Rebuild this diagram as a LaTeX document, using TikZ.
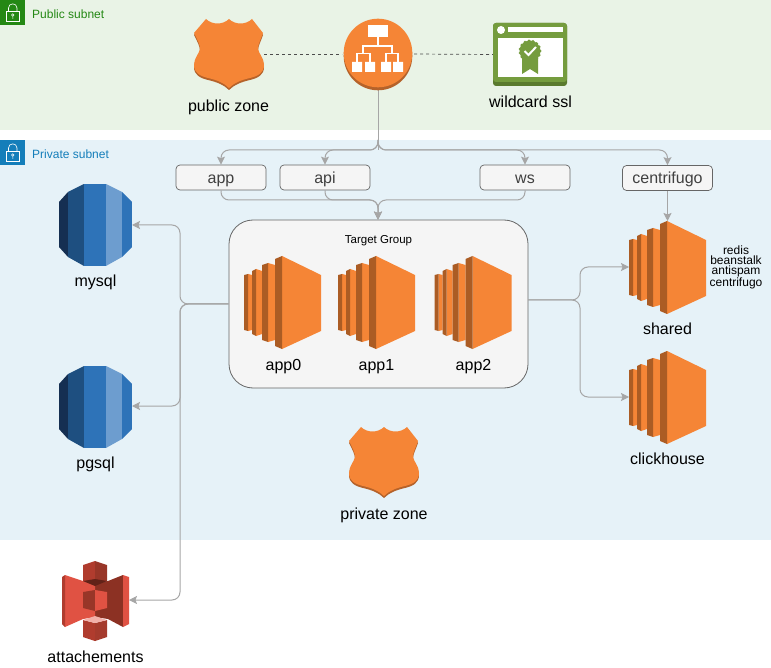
\documentclass[tikz,border=0pt]{standalone}
\usepackage{fontspec}
\setmainfont{Liberation Sans}
\usetikzlibrary{arrows.meta}
\definecolor{pubbg}{HTML}{E9F3E6}
\definecolor{privbg}{HTML}{E6F2F8}
\definecolor{pubgreen}{HTML}{248814}
\definecolor{privblue}{HTML}{147EBA}
\definecolor{orangeL}{HTML}{F58536}
\definecolor{orangeD}{HTML}{AB5C24}
\definecolor{shieldD}{HTML}{B5622A}
\definecolor{linegray}{HTML}{A6A6A6}
\definecolor{boxedge}{HTML}{666666}
\definecolor{boxfill}{HTML}{F5F5F5}
\definecolor{sslG}{HTML}{759C3E}
\definecolor{sslD}{HTML}{5A7A2E}
\definecolor{rdsA}{HTML}{152F52}
\definecolor{rdsB}{HTML}{1E4F80}
\definecolor{rdsC}{HTML}{2E73B8}
\definecolor{rdsD}{HTML}{6D9DCF}
\definecolor{sA}{HTML}{E05243}
\definecolor{sB}{HTML}{8C3123}
\definecolor{sM}{HTML}{B03C2E}
\definecolor{sC}{HTML}{F2B0A9}
\tikzset{
  x=1pt,y=-1pt,
  lbl/.style={font=\fontsize{16}{18}\selectfont,text=black,inner sep=0pt,text height=12pt,text depth=1.5pt},
  slot/.style={inner sep=0pt,outer sep=0pt,minimum width=#1,draw=none},
  domainbox/.style={draw=boxedge,fill=boxfill,rounded corners=4pt,line width=0.7pt,minimum width=90pt,minimum height=25pt,inner sep=0pt,font=\fontsize{16}{18}\selectfont,text=black!75,text height=13pt,text depth=1pt},
  conn/.style={draw=linegray,line width=1pt,rounded corners=8pt,-{Stealth[length=8pt,width=8pt,inset=1.5pt]}},
  plain/.style={draw=linegray,line width=1pt,rounded corners=8pt},
  dashline/.style={draw=black!70,line width=0.7pt,dash pattern=on 3pt off 3pt},
  ec2/.pic={
    \fill[orangeL] (4,18)--(8,19)--(8,74)--(4,75)--cycle;
    \fill[orangeD] (0,19)--(4,18)--(4,75)--(0,74)--cycle;
    \fill[orangeL] (12,13)--(18,15)--(18,78)--(12,80)--cycle;
    \fill[orangeD] (8,15)--(12,13)--(12,80)--(8,78)--cycle;
    \fill[orangeL] (24,7)--(31,9)--(31,84)--(24,86)--cycle;
    \fill[orangeD] (18,9)--(24,7)--(24,86)--(18,84)--cycle;
    \fill[orangeL] (38,0)--(77,19)--(77,75)--(38,93)--cycle;
    \fill[orangeD] (31,3)--(38,0)--(38,93)--(31,90)--cycle;
  },
  shieldshape/.pic={
    \path[fill=#1] (12,0) .. controls (18,6) and (29,6) .. (35,0) .. controls (41,6) and (52,6) .. (58,0) -- (69,14) .. controls (67,20) and (64,25) .. (64,30) .. controls (65,35) and (70,39) .. (70,46) .. controls (70,54) and (64,57) .. (56,59) .. controls (47,61) and (40,64) .. (35,69) .. controls (30,64) and (23,61) .. (14,59) .. controls (6,57) and (0,54) .. (0,46) .. controls (0,39) and (5,35) .. (6,30) .. controls (6,25) and (3,20) .. (0,14) -- cycle;
  },
  rds/.pic={
    \begin{scope}
      \clip (0,18) -- (9,8) -- (25,0) -- (47,0) -- (63,8) -- (73,18) -- (73,63) -- (63,73) -- (47,82) -- (25,82) -- (9,73) -- (0,63) -- cycle;
      \fill[rdsA] (0,0) rectangle (9,82);
      \fill[rdsB] (9,0) rectangle (25,82);
      \fill[rdsC] (25,0) rectangle (47,82);
      \fill[rdsD] (47,0) rectangle (63,82);
      \fill[rdsC] (63,0) rectangle (73,82);
    \end{scope}
  },
  sthree/.pic={
    % right wing, dark half behind the cubes
    \fill[sB] (33,22) -- (46,20) -- (61,14) -- (61,66) -- (46,58) -- (33,56) -- cycle;
    \fill[sA] (61,14) -- (67,16) -- (67,63) -- (61,66) -- cycle;
    % left wing, light half behind the cubes
    \fill[sA] (3,14) -- (21,20) -- (33,22) -- (33,56) -- (21,58) -- (3,66) -- cycle;
    \fill[sM] (0,16) -- (3,14) -- (3,66) -- (0,63) -- cycle;
    % top cube
    \fill[sM] (21,4) -- (33,0) -- (33,24) -- (21,20) -- cycle;
    \fill[sB!85!sA] (33,0) -- (45,4) -- (45,20) -- (33,24) -- cycle;
    \fill[sB!70!black] (21,20) -- (33,18) -- (45,20) -- (33,25) -- cycle;
    % middle cube
    \fill[sB!85!sA] (21,31) -- (33,29) -- (33,50) -- (21,47) -- cycle;
    \fill[sA] (33,29) -- (45,31) -- (45,47) -- (33,50) -- cycle;
    % bottom cube
    \fill[sM] (21,59) -- (33,62) -- (33,80) -- (21,76) -- cycle;
    \fill[sB!70!sA] (33,62) -- (45,59) -- (45,76) -- (33,80) -- cycle;
    \fill[sC] (21,59) -- (33,55) -- (45,59) -- (33,62) -- cycle;
  },
}
\begin{document}
\begin{tikzpicture}
\useasboundingbox (0,0) rectangle (771,668);
% bands
\fill[pubbg] (0,0) rectangle (771,130);
\fill[privbg] (0,140) rectangle (771,540);
% subnet badges
\fill[pubgreen] (0,0) rectangle (25,25);
\fill[privblue] (0,140) rectangle (25,165);
\foreach \yy in {0,140}{
  \draw[white,line width=0.6pt] (6,11.5+\yy) rectangle (19.5,21.5+\yy);
  \draw[white,line width=0.6pt] (8.5,11.5+\yy) -- (8.5,8+\yy) .. controls (8.5,2.5+\yy) and (17,2.5+\yy) .. (17,8+\yy) -- (17,11.5+\yy);
  \draw[white,line width=0.5pt] (12.75,15+\yy) circle (1.3pt) (12.75,16.3+\yy) -- (12.75,19+\yy);
}
\node[anchor=base west,inner sep=0pt,font=\fontsize{12}{14}\selectfont,text=pubgreen] (publabel) at (32,18.5) {Public subnet};
\node[anchor=base west,inner sep=0pt,font=\fontsize{12}{14}\selectfont,text=privblue] (privlabel) at (32,158.5) {Private subnet};
% anchor slots for icons
\node[slot=70pt,minimum height=70pt] (pubzone) at (229,54) {};
\node[slot=69pt,minimum height=72pt,shape=circle] (elb) at (378,54) {};
\node[slot=74pt,minimum height=63pt] (ssl) at (530,54.5) {};
\node[slot=73pt,minimum height=82pt] (mysql) at (95.5,225) {};
\node[slot=73pt,minimum height=82pt] (pgsql) at (95.5,407) {};
\node[slot=67pt,minimum height=80pt] (sthreeb) at (95.5,601) {};
\node[slot=77pt,minimum height=92pt] (shared) at (667.5,267) {};
\node[slot=77pt,minimum height=92pt] (click) at (667.5,397) {};
% target group
\node[draw=boxedge,fill=boxfill,rounded corners=24pt,line width=0.8pt,minimum width=299pt,minimum height=168pt,inner sep=0pt] (tg) at (378.5,304) {};
\node[anchor=base,inner sep=0pt,font=\fontsize{11.5}{14}\selectfont] (tglabel) at (378.5,243.3) {Target Group};
% domain boxes
\node[domainbox] (app) at (221,177.5) {app};
\node[domainbox] (api) at (325,177.5) {api};
\node[domainbox] (ws) at (525,177.5) {ws};
\node[domainbox] (cent) at (667.5,178) {centrifugo};
% connectors
\coordinate (fork) at (378,150);
\coordinate (tgout) at (528,300);
\draw[plain] (elb.south) -- (fork);
\draw[conn] (378,140) |- (app.north |- fork) -- (app.north);
\draw[conn] (378,140) |- (api.north |- fork) -- (api.north);
\draw[conn] (378,140) |- (ws.north |- fork) -- (ws.north);
\draw[conn] (378,140) |- (cent.north |- fork) -- (cent.north);
\draw[conn] (app.south) |- (378,200) -- (378,0 |- tg.north);
\draw[conn] (api.south) |- (378,200) -- (378,0 |- tg.north);
\draw[conn] (ws.south) |- (378,200) -- (378,0 |- tg.north);
\draw[conn] (cent.south) -- (shared.north);
\draw[conn] (tg.west) -| (180,225) -- (mysql.east);
\draw[conn] (tg.west) -| (180,406) -- (pgsql.east |- 0,406);
\draw[conn] (tg.west) -| (180,600) -- (sthreeb.east |- 0,600);
\draw[conn] (tgout) -| (580,267) -- (shared.west);
\draw[conn] (tgout) -| (580,397) -- (click.west);
\draw[dashline] (pubzone.east) -- (elb.west);
\draw[dashline] (elb.east) -- (ssl.west);
% icons
\pic at (194,21) {shieldshape=shieldD};
\pic at (194,19) {shieldshape=orangeL};
\pic at (349,429) {shieldshape=shieldD};
\pic at (349,427) {shieldshape=orangeL};
\pic at (244,256) {ec2};
\pic at (338,256) {ec2};
\pic at (434.5,256) {ec2};
\pic at (629,221) {ec2};
\pic at (629,351) {ec2};
\pic at (59,184) {rds};
\pic at (59,366) {rds};
\pic at (62,561) {sthree};
% ELB
\fill[shieldD] (378,56) circle (34.3pt);
\fill[orangeL] (378,53) circle (34.3pt);
\fill[white] (368,25) rectangle (388,37.5);
\fill[white] (352,62) rectangle (362,72) (365,62) rectangle (375,72) (381,62) rectangle (391,72) (393,62) rectangle (403,72);
\draw[white,line width=1.2pt] (378,37) -- (378,46) (363,53) -- (363,46) -- (392,46) -- (392,53) (357,62) -- (357,53.5) -- (370,53.5) -- (370,62) (386,62) -- (386,53.5) -- (398,53.5) -- (398,62);
% SSL
\fill[sslD,rounded corners=3pt] (493,23) rectangle (567,86);
\fill[sslG,rounded corners=3pt] (493,23) rectangle (567,82);
\fill[white] (498,38) rectangle (563,77);
\fill[white] (501,30) circle (4pt);
\fill[white] (508,27.5) rectangle (563,32.5);
\fill[sslG] (522,56) -- (538,56) -- (538,74) -- (530,69) -- (522,74) -- cycle;
\foreach \a in {0,24,...,336}{\fill[sslG] (530,51)++(\a:10pt) circle (1.6pt);}
\fill[sslG] (530,51) circle (10.5pt);
\draw[white,line width=2pt] (524.5,51) -- (528.5,55) -- (536,47);
% labels
\node[lbl] (t1) at (228.5,106) {public zone};
\node[lbl] (t2) at (530.5,102) {wildcard ssl};
\node[lbl] (t3) at (95.5,281) {mysql};
\node[lbl] (t4) at (95.5,463) {pgsql};
\node[lbl] (t5) at (95.5,657) {attachements};
\node[lbl] (t6) at (283.5,365) {app0};
\node[lbl] (t7) at (376.5,365) {app1};
\node[lbl] (t8) at (473.5,365) {app2};
\node[lbl] (t9) at (667.5,329.5) {shared};
\node[lbl] (t10) at (667.5,459.5) {clickhouse};
\node[lbl] (t11) at (384,514) {private zone};
\node[inner sep=0pt,align=center,font=\fontsize{12}{10}\selectfont] (svc) at (736,267) {redis\\beanstalk\\antispam\\centrifugo};
\end{tikzpicture}
\end{document}
